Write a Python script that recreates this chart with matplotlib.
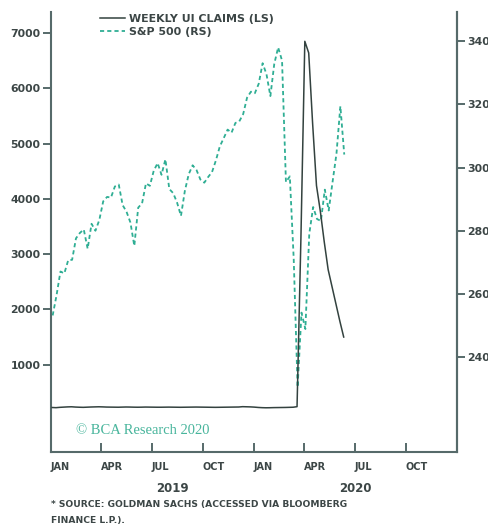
import matplotlib
matplotlib.use("Agg")
import matplotlib.pyplot as plt
import matplotlib.dates as mdates
import numpy as np
import pandas as pd
from matplotlib.lines import Line2D

# ---------------- data ----------------
claims_start = "2019-01-03"
claims_values = [
    225, 222, 228, 232, 236, 238, 233, 230, 228, 231,
    234, 236, 238, 236, 233, 232, 231, 230, 232, 234,
    233, 231, 230, 231, 233, 232, 231, 230, 230, 231,
    232, 231, 230, 229, 230, 231, 232, 233, 232, 231,
    230, 229, 228, 229, 230, 231, 232, 233, 234, 240,
    238, 236, 232, 226, 222, 220, 221, 223, 224, 225,
    226, 228, 230, 240,
    3300, 6850, 6640, 5370, 4240, 3770, 3220, 2720, 2410, 2100, 1790, 1500,
]

sp_start = "2019-01-04"
sp_values = [
    2532, 2596, 2671, 2665, 2707, 2708, 2776, 2793, 2804, 2743,
    2822, 2800, 2834, 2893, 2907, 2905, 2940, 2946, 2881, 2860,
    2826, 2752, 2873, 2887, 2950, 2942, 2990, 3014, 2977, 3026,
    2932, 2919, 2889, 2847, 2926, 2979, 3007, 2992, 2962, 2952,
    2970, 2986, 3023, 3067, 3093, 3120, 3110, 3141, 3146, 3169,
    3221, 3240, 3235, 3265, 3330, 3295, 3226, 3328, 3380, 3338,
    2954, 2972, 2711, 2305, 2541, 2489, 2790, 2875, 2837, 2831,
    2930, 2864, 2955, 3044, 3194, 3041,
]

left_ticks = [1000, 2000, 3000, 4000, 5000, 6000, 7000]
right_ticks = [2400, 2600, 2800, 3000, 3200, 3400]
month_labels = ["JAN", "APR", "JUL", "OCT", "JAN", "APR", "JUL", "OCT"]
year_labels = ["2019", "2020"]
legend_labels = ["WEEKLY UI CLAIMS (LS)", "S&P 500 (RS)"]
source_lines = ["* SOURCE: GOLDMAN SACHS (ACCESSED VIA BLOOMBERG", "FINANCE L.P.)."]
watermark = "\u00a9 BCA Research 2020"

claims_dates = pd.date_range(claims_start, periods=len(claims_values), freq="7D")
sp_dates = pd.date_range(sp_start, periods=len(sp_values), freq="7D")

# ---------------- style ----------------
W, H = 489, 527
TEXT = "#3c4646"
SPINE = "#566a6a"
LINE = "#33423f"
TEAL = "#2fae94"
WM = "#48b59c"
FONT = "DejaVu Sans"

fig = plt.figure(figsize=(W / 100, H / 100), dpi=100)
ax = fig.add_axes([51 / W, 1 - 452 / H, 406 / W, 440 / H])
ax2 = ax.twinx()

ax.plot(claims_dates, claims_values, color=LINE, lw=1.1, zorder=3)
ax2.plot(sp_dates, sp_values, color=TEAL, lw=1.3, ls=(0, (2.3, 1.7)), zorder=2)
ax.set_zorder(ax2.get_zorder() + 1)
ax.patch.set_visible(False)

ax.set_xlim(pd.Timestamp("2019-01-01"), pd.Timestamp("2021-01-01"))
ax.set_ylim(-580, 7380)
ax2.set_ylim(2100, 3492)

for a in (ax, ax2):
    a.spines["top"].set_visible(False)
    for s in a.spines.values():
        s.set_color(SPINE)
        s.set_linewidth(1.5)
ax2.spines["left"].set_visible(False)
ax2.spines["bottom"].set_visible(False)

ax.set_yticks(left_ticks)
ax.set_yticklabels([str(v) for v in left_ticks])
ax2.set_yticks(right_ticks)
ax2.set_yticklabels([str(v) for v in right_ticks])
ax.tick_params(axis="y", direction="out", length=5.5, width=1.4, color=SPINE,
               labelsize=7.8, labelcolor=TEXT, pad=2)
ax2.tick_params(axis="y", direction="out", length=5.5, width=1.4, color=SPINE,
                labelsize=7.8, labelcolor=TEXT, pad=2)
for lab in ax.get_yticklabels() + ax2.get_yticklabels():
    lab.set_fontweight("bold")
    lab.set_family(FONT)

qticks = pd.date_range("2019-01-01", periods=8, freq="QS")
ax.set_xticks(qticks)
ax.set_xticklabels(month_labels)
ax.tick_params(axis="x", direction="in", length=6.5, width=1.4, color=SPINE,
               labelsize=7, labelcolor=TEXT, pad=7.5)
for lab in ax.get_xticklabels():
    lab.set_fontweight("bold")
    lab.set_horizontalalignment("left")
    lab.set_family(FONT)
ax.set_xticks([pd.Timestamp("2020-01-01")], minor=True)
ax.tick_params(axis="x", which="minor", direction="in", length=13, width=1.4, color=SPINE)

# legend
handles = [Line2D([], [], color=LINE, lw=1.1),
           Line2D([], [], color=TEAL, lw=1.3, ls=(0, (2.3, 1.7)))]
leg = fig.legend(handles, legend_labels, loc="upper left",
                 bbox_to_anchor=(100 / W, 1 - 14 / H), frameon=False,
                 borderpad=0, borderaxespad=0, handlelength=2.3, handletextpad=0.35,
                 labelspacing=0.28, prop={"family": FONT, "weight": "bold", "size": 7.9})
for t in leg.get_texts():
    t.set_color(TEXT)

# texts
fig.text(76 / W, 1 - 430 / H, watermark, color=WM, fontsize=10.5,
         family="Liberation Serif", va="center", ha="left")
fig.text(172 / W, 1 - 488 / H, year_labels[0], color=TEXT, fontsize=8.5,
         fontweight="bold", family=FONT, ha="center", va="center")
fig.text(355 / W, 1 - 488 / H, year_labels[1], color=TEXT, fontsize=8.5,
         fontweight="bold", family=FONT, ha="center", va="center")
fig.text(51 / W, 1 - 505 / H, source_lines[0], color=TEXT, fontsize=6.6,
         fontweight="bold", family=FONT, ha="left", va="center")
fig.text(51 / W, 1 - 521 / H, source_lines[1], color=TEXT, fontsize=6.6,
         fontweight="bold", family=FONT, ha="left", va="center")

fig.savefig("out.png", dpi=100)
